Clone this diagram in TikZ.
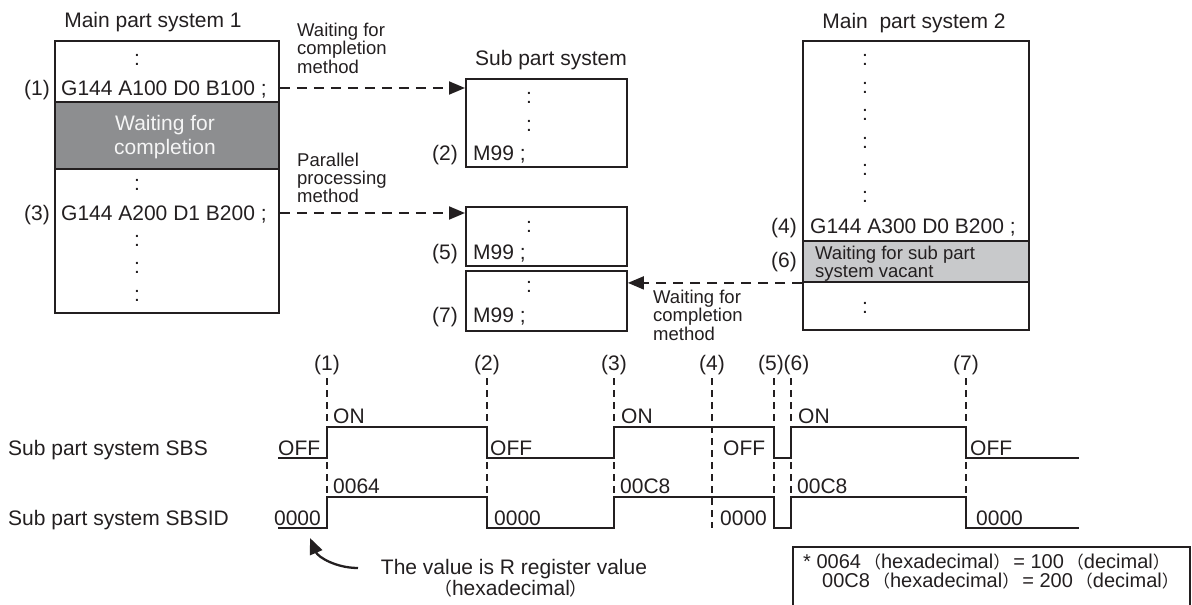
\documentclass[tikz,border=0pt]{standalone}
\usepackage{fontspec}
\setmainfont{Liberation Sans}
\newfontfamily\cjkfont{Noto Sans CJK JP}
\usetikzlibrary{arrows.meta}
\newcommand\fwl{\makebox[1em][r]{\cjkfont\scalebox{0.85}{（}}}
\newcommand\fwr{\makebox[1em][l]{\cjkfont\scalebox{0.85}{）}}}
\definecolor{ink}{HTML}{231F20}
\definecolor{grayhi}{HTML}{8D8E90}
\definecolor{graylo}{HTML}{C8C9CB}
\definecolor{paletext}{HTML}{F5F5F5}
\begin{document}
\begin{tikzpicture}[x=1pt,y=-1pt,
  every node/.style={inner sep=0pt, text=ink},
  txt/.style={font=\fontsize{21}{21}\selectfont, anchor=base},
  txtw/.style={txt, anchor=base west},
  txte/.style={txt, anchor=base east},
  sml/.style={font=\fontsize{18.5}{18.5}\selectfont, anchor=base west},
  note/.style={font=\fontsize{20}{20}\selectfont, anchor=base west},
  progbox/.style={draw=ink, line width=1.9pt, anchor=north west},
  dasharrow/.style={draw=ink, line width=1.9pt, dash pattern=on 10pt off 7pt, -{Triangle[length=16pt,width=13pt]}},
  sigline/.style={draw=ink, line width=2.1pt},
  vline/.style={draw=ink, line width=1.5pt, dash pattern=on 7pt off 5pt},
]
\useasboundingbox (0,0) rectangle (1192,605);

% ---------------- Main part system 1 ----------------
\node[txt] (m1t) at (153,27.5) {Main part system 1};
\node[progbox, minimum width=224pt, minimum height=272pt] (m1) at (54,40) {};
\node[progbox, fill=grayhi, minimum width=224pt, minimum height=67pt] (g1) at (54,101) {};
\node[txt] (m1c1) at (137,65.5) {:};
\node[txte] (l1) at (50,95.5) {(1)};
\node[txtw] (r1) at (61,95.5) {G144 A100 D0 B100 ;};
\node[txt, text=paletext] (g1a) at (165,130.5) {Waiting for};
\node[txt, text=paletext] (g1b) at (165,154.5) {completion};
\node[txt] (m1c2) at (137,190.5) {:};
\node[txte] (l3) at (50,220.5) {(3)};
\node[txtw] (r3) at (61,220.5) {G144 A200 D1 B200 ;};
\node[txt] (m1c3) at (137,246.5) {:};
\node[txt] (m1c4) at (137,273.5) {:};
\node[txt] (m1c5) at (137,301.5) {:};

% ---------------- Sub part system ----------------
\node[txt] (st) at (551,65) {Sub part system};
\node[progbox, minimum width=161pt, minimum height=88pt] (s1) at (465,78) {};
\node[progbox, minimum width=161pt, minimum height=59pt] (s2) at (465,206) {};
\node[progbox, minimum width=161pt, minimum height=60pt] (s3) at (465,270) {};
\node[txt] (s1c1) at (529,103.5) {:};
\node[txt] (s1c2) at (529,131.5) {:};
\node[txte] (l2) at (458,160.5) {(2)};
\node[txtw] (s1m) at (473,160.5) {M99 ;};
\node[txt] (s2c1) at (529,232.5) {:};
\node[txte] (l5) at (458,259.5) {(5)};
\node[txtw] (s2m) at (473,259.5) {M99 ;};
\node[txt] (s3c1) at (529,292.5) {:};
\node[txte] (l7) at (458,322) {(7)};
\node[txtw] (s3m) at (473,322) {M99 ;};

% ---------------- Main part system 2 ----------------
\node[txt] (m2t) at (914,28) {Main\ \ part system 2};
\node[progbox, minimum width=226pt, minimum height=289pt] (m2) at (802,40) {};
\node[progbox, fill=graylo, minimum width=226pt, minimum height=41pt] (g2) at (802,240) {};
\node[txt] (m2c1) at (865,65.5) {:};
\node[txt] (m2c2) at (865,93.5) {:};
\node[txt] (m2c3) at (865,120.5) {:};
\node[txt] (m2c4) at (865,148.5) {:};
\node[txt] (m2c5) at (865,175.5) {:};
\node[txt] (m2c6) at (865,202.5) {:};
\node[txte] (l4) at (797,233.5) {(4)};
\node[txtw] (r4) at (810,233.5) {G144 A300 D0 B200 ;};
\node[sml] (g2a) at (815,259) {Waiting for sub part};
\node[sml] (g2b) at (815,277.5) {system vacant};
\node[txte] (l6) at (797,267.5) {(6)};
\node[txt] (m2c7) at (865,313.5) {:};

% ---------------- method labels ----------------
\node[sml] (w1a) at (297,36) {Waiting for};
\node[sml] (w1b) at (297,54.5) {completion};
\node[sml] (w1c) at (297,73) {method};
\node[sml] (p1a) at (297,166) {Parallel};
\node[sml] (p1b) at (297,184) {processing};
\node[sml] (p1c) at (297,202) {method};
\node[sml] (w2a) at (653,303) {Waiting for};
\node[sml] (w2b) at (653,321.5) {completion};
\node[sml] (w2c) at (653,340) {method};

% ---------------- connectors ----------------
\coordinate (y1) at (0,88);
\coordinate (y3) at (0,213);
\draw[dasharrow] (m1.east |- y1) -- (s1.west |- y1);
\draw[dasharrow] (m1.east |- y3) -- (s2.west |- y3);
\draw[dasharrow] (m2.west |- g2.south) -- (s3.east |- g2.south);

% ---------------- timing chart ----------------
\node[txt] (t1) at (327,370.5) {(1)};
\node[txt] (t2) at (487,370.5) {(2)};
\node[txt] (t3) at (614,370.5) {(3)};
\node[txt] (t4) at (712,370.5) {(4)};
\node[txt] (t5) at (771,370.5) {(5)};
\node[txt] (t6) at (796.5,370.5) {(6)};
\node[txt] (t7) at (966,370.5) {(7)};

\draw[vline] (327,378) -- (327,497);
\draw[vline] (487,378) -- (487,497);
\draw[vline] (614,378) -- (614,497);
\draw[vline] (712,378) -- (712,528);
\draw[vline] (774,378) -- (774,497);
\draw[vline] (791,378) -- (791,497);
\draw[vline] (966,378) -- (966,497);

\node[txtw] (sbs) at (8,455.5) {Sub part system SBS};
\node[txtw] (sbsid) at (8,525) {Sub part system SBSID};

\draw[sigline] (278,458) -- (327,458) -- (327,427) -- (487,427) -- (487,458)
  -- (614,458) -- (614,427) -- (774,427) -- (774,458) -- (791,458) -- (791,427)
  -- (966,427) -- (966,458) -- (1079,458);
\draw[sigline] (278,528) -- (327,528) -- (327,497) -- (487,497) -- (487,528)
  -- (614,528) -- (614,497) -- (774,497) -- (774,528) -- (791,528) -- (791,497)
  -- (966,497) -- (966,528) -- (1079,528);

\node[txtw] (off1) at (278,455.5) {OFF};
\node[txtw] (on1) at (333,423.5) {ON};
\node[txtw] (off2) at (490,455.5) {OFF};
\node[txtw] (on3) at (621,423.5) {ON};
\node[txtw] (off4) at (723,455.5) {OFF};
\node[txtw] (on6) at (798,423.5) {ON};
\node[txtw] (off7) at (970,455.5) {OFF};

\node[txte] (z1) at (321,525) {0000};
\node[txtw] (h1) at (333,493.5) {0064};
\node[txtw] (z2) at (494,525) {0000};
\node[txtw] (h3) at (620,493.5) {00C8};
\node[txtw] (z4) at (720,525) {0000};
\node[txtw] (h6) at (797,493.5) {00C8};
\node[txtw] (z7) at (976,525) {0000};

% ---------------- annotation ----------------
\node[txt] (rv1) at (514,574) {The value is R register value};
\node[txt] (rv2) at (511,595) {\fwl hexadecimal\fwr};
\coordinate (ctail) at (358,568);
\coordinate (ctip) at (310,538);
\draw[draw=ink, line width=2.3pt, -{Triangle[length=16pt,width=13pt]}]
  (ctail) .. controls (336,568) and (318,557) .. (ctip);

% ---------------- note box ----------------
\draw[draw=ink, line width=1.9pt] (793,607) -- (793,547) -- (1190,547) -- (1190,607);
\node[note] (n1) at (803,568) {* 0064\fwl hexadecimal\fwr= 100\fwl decimal\fwr};
\node[note] (n2) at (822,587) {00C8\fwl hexadecimal\fwr= 200\fwl decimal\fwr};
\end{tikzpicture}
\end{document}
